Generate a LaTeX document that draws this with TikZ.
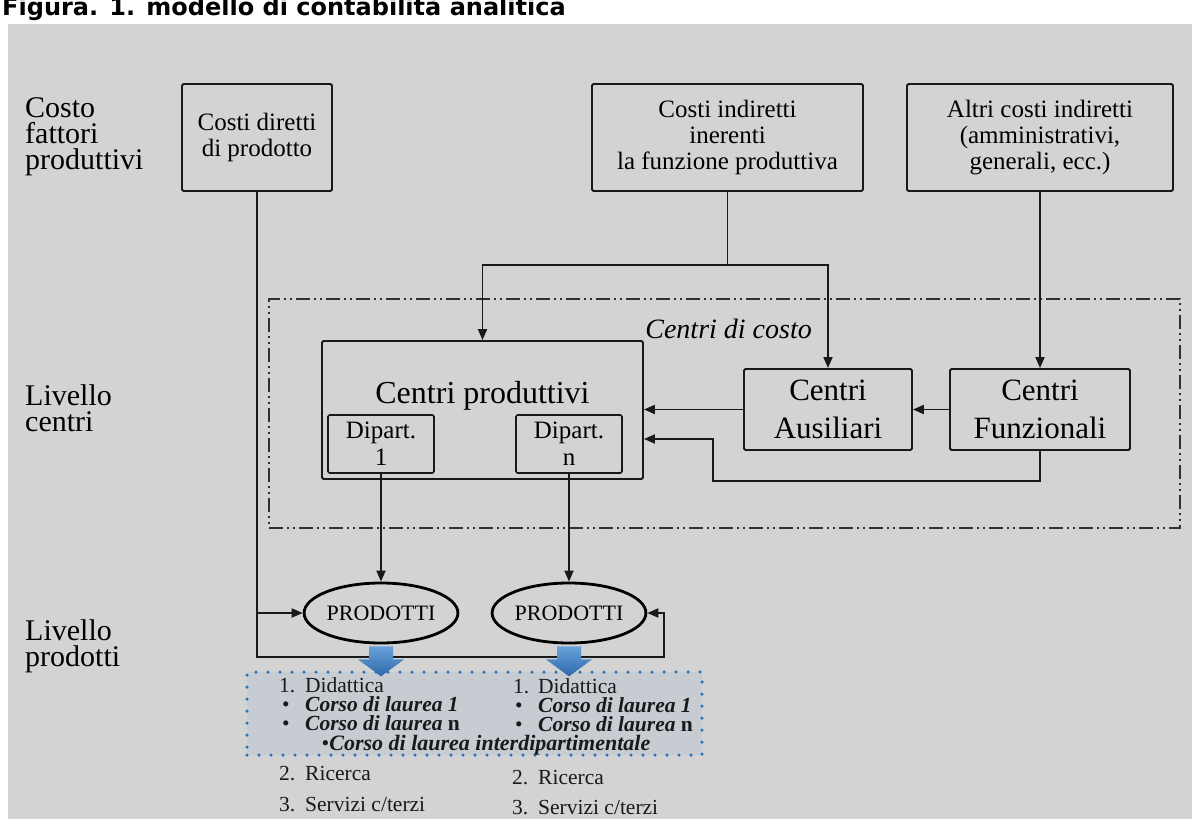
\documentclass[tikz,border=0pt]{standalone}
\usepackage{fontspec}
\setmainfont{Liberation Serif}
\newfontfamily\titlefont{DejaVu Sans}
\usepackage{xcolor}
\usepackage{tikz}
\usetikzlibrary{arrows.meta,positioning,calc,shapes.geometric}

\definecolor{bggray}{RGB}{211,211,211}
\definecolor{dotblue}{RGB}{46,117,182}
\definecolor{dotfill}{RGB}{198,204,210}
\definecolor{arrtop}{RGB}{104,162,218}
\definecolor{arrbot}{RGB}{47,104,170}
\definecolor{ink}{RGB}{25,25,25}

\begin{document}
\begin{tikzpicture}[x=1pt,y=-1pt,
  box/.style={draw=ink,line width=1.9pt,rounded corners=1.5pt,align=center,inner sep=0pt,font=\fontsize{25}{26}\selectfont},
  bigbox/.style={box,font=\fontsize{31}{38}\selectfont},
  arr/.style={-{Triangle[length=11pt,width=9pt]},line width=1.9pt,draw=ink},
  lvllabel/.style={align=left,anchor=north west,inner sep=0pt,font=\fontsize{30}{26}\selectfont},
  prod/.style={ellipse,draw=black,line width=2.8pt,minimum width=130pt,minimum height=60pt,inner sep=0pt,font=\fontsize{22}{22}\selectfont},
  costframe/.style={draw=ink!90,line width=1.7pt,dash pattern=on 14pt off 4pt on 2pt off 4pt on 2pt off 4pt},
  dotbox/.style={draw=dotblue,fill=dotfill,line width=3.5pt,dash pattern=on 0pt off 12pt,line cap=round},
  listtext/.style={align=left,anchor=north west,inner sep=0pt,text=ink,font=\fontsize{21.5}{19.3}\selectfont},
  blockarr/.style={top color=arrtop,bottom color=arrbot}
]
\useasboundingbox (0,0) rectangle (1192,819);
\fill[bggray] (8,24) rectangle (1192,819);
\node[anchor=base west,inner sep=0pt,font=\titlefont\bfseries\fontsize{24}{24}\selectfont] (title) at (2,16) {Figura. 1. modello di contabilità analitica};

% levels
\node[lvllabel] (lvcosto) at (25,97) {Costo\\fattori\\produttivi};
\node[lvllabel] (lvcentri) at (25,384) {Livello\\centri};
\node[lvllabel] (lvprod) at (25,619) {Livello\\prodotti};

% cost factors
\node[box,minimum width=150pt,minimum height=107pt] (cdir) at (257,137.5) {Costi diretti\\di prodotto};
\node[box,minimum width=271pt,minimum height=107pt] (cind) at (727.5,137.5) {Costi indiretti\\inerenti\\la funzione produttiva};
\node[box,minimum width=266pt,minimum height=107pt] (caltri) at (1040,137.5) {Altri costi indiretti\\(amministrativi,\\generali, ecc.)};

% cost centres
\node[costframe,minimum width=911pt,minimum height=229pt] (cdcframe) at (724.5,413.5) {};
\node[anchor=base east,inner sep=0pt,font=\itshape\fontsize{28}{28}\selectfont] (cdclabel) at (812,338) {Centri di costo};
\node[box,minimum width=321pt,minimum height=138pt] (cprod) at (482.5,410) {};
\node[anchor=base,inner sep=0pt,font=\fontsize{32}{32}\selectfont] (cprodlbl) at (482.5,403) {Centri produttivi};
\node[box,minimum width=106pt,minimum height=58pt,line width=1.6pt,font=\fontsize{25}{27}\selectfont] (dip1) at (381,444) {Dipart.\\1};
\node[box,minimum width=106pt,minimum height=58pt,line width=1.6pt,font=\fontsize{25}{27}\selectfont] (dipn) at (569,444) {Dipart.\\n};
\node[bigbox,minimum width=168pt,minimum height=81pt] (caus) at (828,409.5) {Centri\\Ausiliari};
\node[bigbox,minimum width=180pt,minimum height=81pt] (cfun) at (1040,409.5) {Centri\\Funzionali};

% products
\node[prod] (prod1) at (381,613) {PRODOTTI};
\node[prod] (prod2) at (569,613) {PRODOTTI};

\coordinate (split) at ([yshift=-73pt]cind.south);
\coordinate (loopR) at (664,657);
\coordinate (ret) at (713,481);

\draw[arr] (cind.south) -- (split) -| (cprod.north);
\draw[arr] (split) -| (caus.north);
\draw[arr] (caltri.south) -- (cfun.north);
\draw[arr] (cfun.west) -- (caus.east);
\draw[arr] (caus.west) -- (cprod.east |- caus.west);
\draw[arr] (cfun.south) |- (ret) |- ($(cprod.east)+(0,29)$);
\draw[arr] (dip1.south) -- (prod1.north);
\draw[arr] (dipn.south) -- (prod2.north);
\draw[arr] (cdir.south) |- (loopR) |- (prod2.east);
\draw[arr] (cdir.south |- prod1.west) -- (prod1.west);

% outputs
\node[dotbox,minimum width=455pt,minimum height=83pt,inner sep=0pt] (didbox) at (474.5,713.5) {};
\foreach \p in {prod1,prod2}
  \shade[blockarr] ($(\p.south)+(-12,2)$) -- ++(24,0) -- ++(0,13) -- ++(11,0) -- ++(-23,17) -- ++(-23,-17) -- ++(11,0) -- cycle;

\node[listtext] (didL) at (279,677) {\makebox[26pt][l]{1.}Didattica\\
  \makebox[26pt][l]{\hspace{3pt}\textbullet}\textbf{\textit{Corso di laurea 1}}\\
  \makebox[26pt][l]{\hspace{3pt}\textbullet}\textbf{\textit{Corso di laurea} n}};
\node[listtext] (didR) at (513,678) {\makebox[25pt][l]{1.}Didattica\\
  \makebox[25pt][l]{\hspace{2pt}\textbullet}\textbf{\textit{Corso di laurea 1}}\\
  \makebox[25pt][l]{\hspace{2pt}\textbullet}\textbf{\textit{Corso di laurea} n}};
\node[anchor=base,inner sep=0pt,text=ink,font=\fontsize{22}{22}\selectfont] (didI) at (486,750) {\textbullet\textbf{\textit{Corso di laurea interdipartimentale}}};

\node[listtext,anchor=base west] (ricL) at (279,780) {\makebox[26pt][l]{2.}Ricerca};
\node[listtext,anchor=base west] (serL) at (279,811) {\makebox[26pt][l]{3.}Servizi c/terzi};
\node[listtext,anchor=base west] (ricR) at (512,784) {\makebox[26pt][l]{2.}Ricerca};
\node[listtext,anchor=base west] (serR) at (512,814) {\makebox[26pt][l]{3.}Servizi c/terzi};
\end{tikzpicture}
\end{document}
